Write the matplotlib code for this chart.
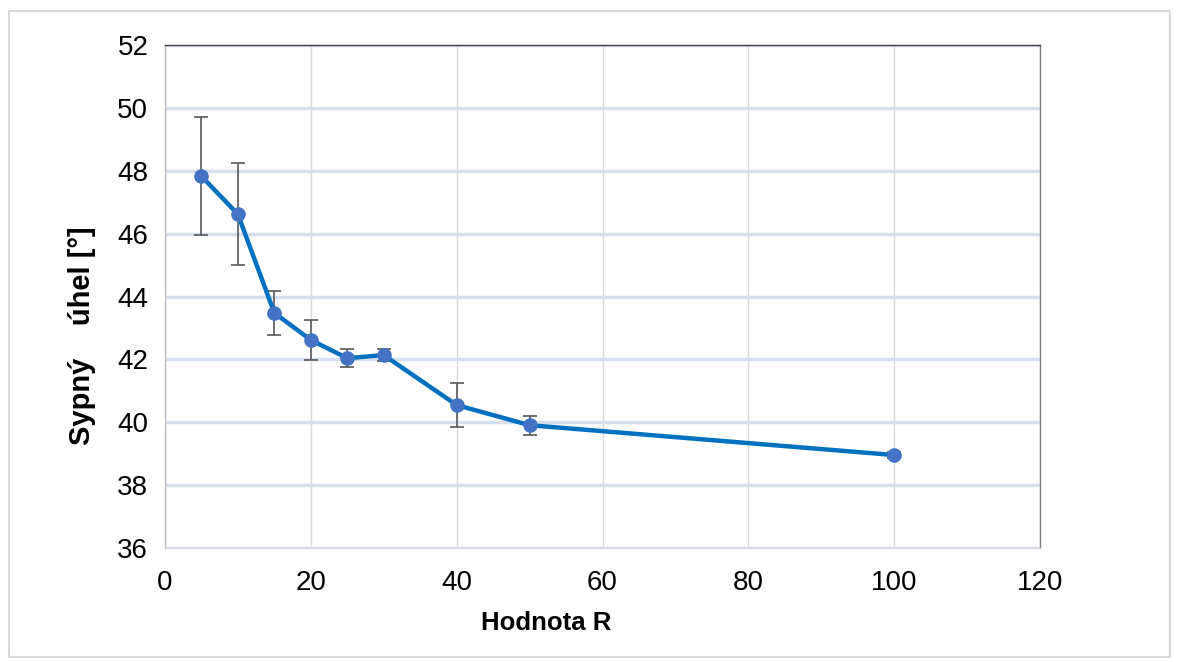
import matplotlib
matplotlib.use('Agg')
import matplotlib.pyplot as plt
from matplotlib.patches import Rectangle

# data
hodnota_r = [5, 10, 15, 20, 25, 30, 40, 50, 100]
sypny_uhel = [47.83, 46.62, 43.48, 42.62, 42.04, 42.14, 40.55, 39.91, 38.96]
chyba = [1.88, 1.62, 0.70, 0.63, 0.28, 0.20, 0.70, 0.30, 0.10]

x_ticks = [0, 20, 40, 60, 80, 100, 120]
y_ticks = [36, 38, 40, 42, 44, 46, 48, 50, 52]

plt.rcParams['font.family'] = ['Liberation Sans', 'DejaVu Sans']

fig = plt.figure(figsize=(11.78, 6.62), dpi=100)
ax = fig.add_axes([0.140, 0.172, 0.743, 0.760])

# outer chart border
fig.patches.append(Rectangle((9 / 1178, 5 / 662), 1161 / 1178, 646 / 662,
                             transform=fig.transFigure, fill=False,
                             edgecolor='#d9d9d9', linewidth=1.5))

ax.errorbar(hodnota_r, sypny_uhel, yerr=chyba, fmt='none', ecolor='#595959',
            elinewidth=1.2, capsize=5, capthick=1.2, zorder=3)
ax.plot(hodnota_r, sypny_uhel, color='#0070c0', linewidth=3.2, zorder=4)
ax.plot(hodnota_r, sypny_uhel, 'o', color='#4472c4', markersize=9.5, zorder=5)

ax.set_xlim(0, 120)
ax.set_ylim(36, 52)
ax.set_xticks(x_ticks)
ax.set_yticks(y_ticks)

ax.yaxis.grid(True, color='#d6dff0', linewidth=2.5)
ax.xaxis.grid(True, color='#d9d9d9', linewidth=1.0)
ax.set_axisbelow(True)

ax.spines['top'].set_color('#404040')
ax.spines['right'].set_color('#7f7f7f')
ax.spines['left'].set_color('#bfbfbf')
ax.spines['bottom'].set_color('#d9d9d9')
for s in ax.spines.values():
    s.set_linewidth(1.0)

ax.tick_params(length=0, labelsize=20, colors='#000000', pad=12)
ax.tick_params(axis='x', pad=16)

# axis titles placed like in the original (x title is off-centre)
fig.text(546 / 1178, 1 - 623 / 662, 'Hodnota R', fontsize=18.5,
         fontweight='bold', ha='center', va='center')
fig.text(82 / 1178, 1 - 336 / 662, 'Sypný    úhel [°]', fontsize=21,
         fontweight='bold', ha='center', va='center', rotation=90)

fig.savefig('out.png', dpi=100, facecolor='white')
